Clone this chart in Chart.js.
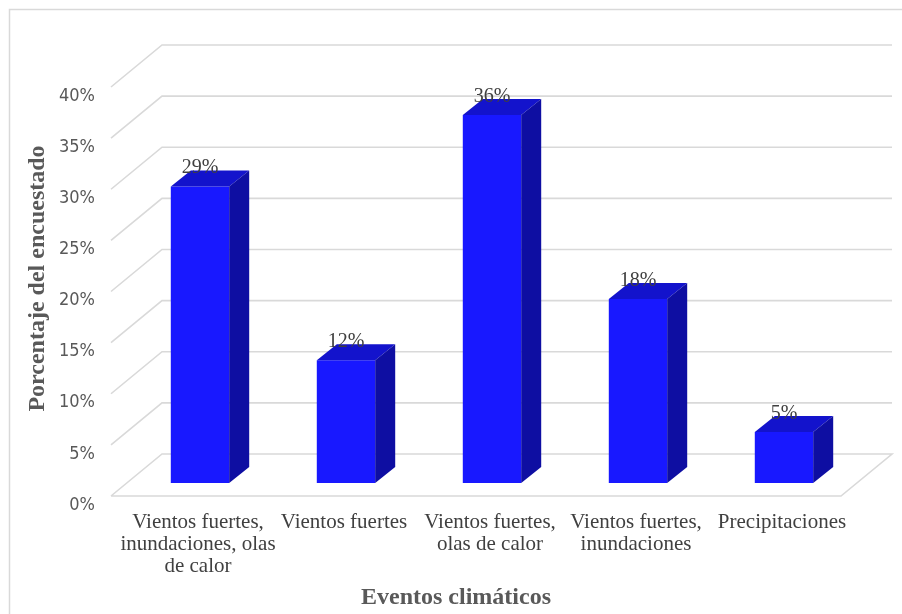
<!DOCTYPE html>
<html>
<head>
<meta charset="utf-8">
<script src="https://cdn.jsdelivr.net/npm/chart.js@4/dist/chart.umd.min.js"></script>
<style>
  html, body { margin: 0; padding: 0; background: #ffffff; }
  #wrap { width: 902px; height: 614px; }
</style>
</head>
<body>
<div id="wrap"><canvas id="chart" width="902" height="614"></canvas></div>
<script>
// Survey results: share of respondents per climate event
const categories = [
  ['Vientos fuertes,', 'inundaciones, olas', 'de calor'],
  'Vientos fuertes',
  ['Vientos fuertes,', 'olas de calor'],
  ['Vientos fuertes,', 'inundaciones'],
  'Precipitaciones'
];
const percentages = [29, 12, 36, 18, 5];
const yTickValues = [0, 5, 10, 15, 20, 25, 30, 35, 40];
const xAxisTitle = 'Eventos climáticos';
const yAxisTitle = 'Porcentaje del encuestado';

// Pseudo-3D box: offsets measured from the plane of the bar front faces
const FRONT = { dx: -16, dy: 13 };     // front edge of the floor / left wall
const BACK = { dx: 35, dy: -29 };      // back wall
const BAR_DEPTH = { dx: 20, dy: -16 }; // depth of each column
const GRID_COLOR = '#d9d9d9';
const FACE_COLOR = '#1818ff';
const TOP_COLOR = '#1313cc';
const SIDE_COLOR = '#0e0ea2';
const SERIF = '"Liberation Serif", "Times New Roman", serif';
const NARROW = '"Liberation Sans Narrow", "Arial Narrow", "DejaVu Sans Condensed", sans-serif';
const FRAME_INSET = 10;

const frame3d = {
  id: 'frame3d',
  beforeDraw(chart) {
    const ctx = chart.ctx;
    ctx.save();
    ctx.strokeStyle = GRID_COLOR;
    ctx.lineWidth = 1.5;
    ctx.beginPath();
    ctx.moveTo(FRAME_INSET - 0.5, chart.height + 5);
    ctx.lineTo(FRAME_INSET - 0.5, FRAME_INSET - 0.5);
    ctx.lineTo(chart.width + 5, FRAME_INSET - 0.5);
    ctx.stroke();
    ctx.restore();
  },
  beforeDatasetsDraw(chart) {
    const ctx = chart.ctx;
    const area = chart.chartArea;
    const y = chart.scales.y;
    ctx.save();
    ctx.strokeStyle = GRID_COLOR;
    ctx.lineWidth = 1.6;
    y.ticks.forEach((t) => {
      const py = y.getPixelForValue(t.value);
      ctx.beginPath();
      ctx.moveTo(area.left + FRONT.dx, py + FRONT.dy);
      ctx.lineTo(area.left + BACK.dx, py + BACK.dy);
      ctx.lineTo(area.right + BACK.dx, py + BACK.dy);
      if (t.value === 0) {
        // floor outline
        ctx.lineTo(area.right + FRONT.dx, py + FRONT.dy);
        ctx.lineTo(area.left + FRONT.dx, py + FRONT.dy);
      }
      ctx.stroke();
    });
    ctx.restore();
  },
  afterDatasetsDraw(chart) {
    const ctx = chart.ctx;
    const meta = chart.getDatasetMeta(0);
    const data = chart.data.datasets[0].data;
    ctx.save();
    meta.data.forEach((bar, i) => {
      const { x, y, base, width } = bar.getProps(['x', 'y', 'base', 'width'], true);
      const l = x - width / 2;
      const r = x + width / 2;
      // top face
      ctx.fillStyle = TOP_COLOR;
      ctx.beginPath();
      ctx.moveTo(l, y);
      ctx.lineTo(r, y);
      ctx.lineTo(r + BAR_DEPTH.dx, y + BAR_DEPTH.dy);
      ctx.lineTo(l + BAR_DEPTH.dx, y + BAR_DEPTH.dy);
      ctx.closePath();
      ctx.fill();
      // right side face
      ctx.fillStyle = SIDE_COLOR;
      ctx.beginPath();
      ctx.moveTo(r, y);
      ctx.lineTo(r + BAR_DEPTH.dx, y + BAR_DEPTH.dy);
      ctx.lineTo(r + BAR_DEPTH.dx, base + BAR_DEPTH.dy);
      ctx.lineTo(r, base);
      ctx.closePath();
      ctx.fill();
      // value label
      ctx.fillStyle = '#404040';
      ctx.font = '20px ' + SERIF;
      ctx.textAlign = 'center';
      ctx.textBaseline = 'middle';
      ctx.fillText(data[i] + '%', x, y - 18.5);
    });
    ctx.restore();
  },
  afterDraw(chart) {
    // category axis title, centred on the framed chart
    const ctx = chart.ctx;
    ctx.save();
    ctx.fillStyle = '#595959';
    ctx.font = 'bold 24px ' + SERIF;
    ctx.textAlign = 'center';
    ctx.textBaseline = 'middle';
    ctx.fillText(xAxisTitle, (FRAME_INSET + chart.width) / 2, chart.height - 16);
    ctx.restore();
  }
};

new Chart(document.getElementById('chart'), {
  type: 'bar',
  data: {
    labels: categories,
    datasets: [{
      data: percentages,
      backgroundColor: FACE_COLOR,
      borderWidth: 0,
      barPercentage: 0.4,
      categoryPercentage: 1.0
    }]
  },
  options: {
    responsive: false,
    animation: false,
    devicePixelRatio: 1,
    layout: { padding: { top: 74, right: 45, left: FRAME_INSET, bottom: 0 } },
    plugins: {
      legend: { display: false },
      tooltip: { enabled: false }
    },
    scales: {
      x: {
        grid: { display: false, drawTicks: false },
        border: { display: false },
        ticks: {
          color: '#404040',
          font: { family: SERIF, size: 21, lineHeight: 1.05 },
          padding: 28,
          labelOffset: -2,
          maxRotation: 0,
          minRotation: 0,
          autoSkip: false
        },
        afterFit(scale) { scale.height = 131; }
      },
      y: {
        min: 0,
        max: 40,
        grid: { display: false, drawTicks: false },
        border: { display: false },
        afterBuildTicks(scale) { scale.ticks = yTickValues.map((v) => ({ value: v })); },
        ticks: {
          color: '#595959',
          font: { family: NARROW, size: 18 },
          padding: 32,
          labelOffset: 22,
          callback: (v) => v + '%'
        },
        title: {
          display: true,
          text: yAxisTitle,
          color: '#595959',
          font: { family: SERIF, size: 24, weight: 'bold', lineHeight: 1.2 },
          padding: { top: 13, bottom: 0 }
        },
        afterFit(scale) { scale.width = 117; }
      }
    }
  },
  plugins: [frame3d]
});
</script>
</body>
</html>
